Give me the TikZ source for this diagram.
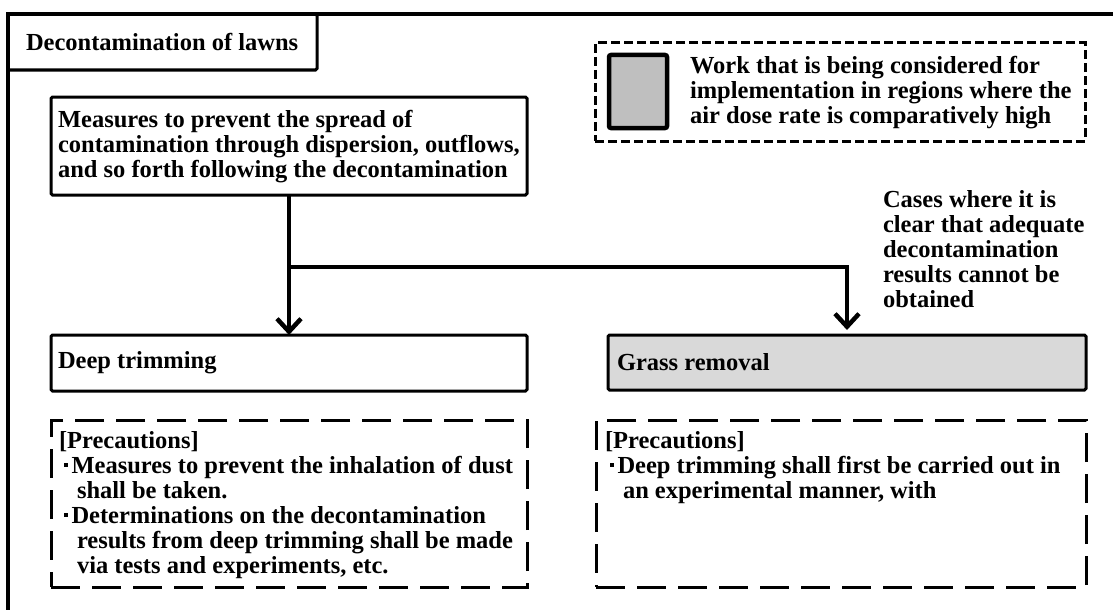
\documentclass[tikz,border=0pt]{standalone}
\usepackage{fontspec}
\setmainfont{Liberation Serif}
\usetikzlibrary{arrows.meta}
\definecolor{legendgray}{HTML}{BFBFBF}
\definecolor{boxgray}{HTML}{D9D9D9}
% small square bullet and hanging indent for the precaution lists
\newcommand\pdot{\hspace*{4.5pt}\rule[6.5pt]{4pt}{4pt}\hspace*{4pt}}
\newcommand\pind{\hspace*{18pt}}
\begin{document}
\begin{tikzpicture}[x=1pt,y=-1pt,
  every node/.style={inner sep=0pt, outer sep=0pt},
  txt/.style={font=\fontsize{24.5}{25}\selectfont\bfseries, align=left, anchor=west},
  solidbox/.style={draw, line width=3pt, rounded corners=1.5pt, anchor=north west},
  dashbox/.style={draw, line width=3pt, dash pattern=on 29pt off 12pt, anchor=north west},
  legendbox/.style={draw, line width=3pt, dash pattern=on 9pt off 4pt, anchor=north west},
  conn/.style={line width=4.5pt, -{Straight Barb[length=13pt,width=24pt]}},
]
\useasboundingbox (0,0) rectangle (1113,610);
\clip (0,0) rectangle (1113,610);
\fill[white] (0,0) rectangle (1113,610);

% outer frame (only its top and left edges are in view)
\draw[line width=3.5pt] (8,650) -- (8,14) -- (1150,14);

% title tab
\node[solidbox, minimum width=309pt, minimum height=56pt] (title) at (8,14) {};
\node[txt] (titletxt) at (26,42) {Decontamination of lawns};

% legend
\node[legendbox, minimum width=490pt, minimum height=98pt] (legend) at (595,43) {};
\node[draw, line width=4.5pt, rounded corners=2pt, fill=legendgray, anchor=north west,
      minimum width=58pt, minimum height=73pt] (legsq) at (609,55) {};
\node[txt] (legtxt) at (690,93) {Work that is being considered for\\implementation in regions where the\\air dose rate is comparatively high};

% measures box
\node[solidbox, minimum width=476pt, minimum height=98pt] (measures) at (51,97) {};
\node[txt] (measurestxt) at ([xshift=7pt, yshift=-1pt]measures.west) {Measures to prevent the spread of\\contamination through dispersion, outflows,\\and so forth following the decontamination};

% branch condition
\node[txt] (cases) at (883,249) {Cases where it is\\clear that adequate\\decontamination\\results cannot be\\obtained};

% work boxes
\node[solidbox, minimum width=476pt, minimum height=56pt] (deep) at (51,335) {};
\node[txt] (deeptxt) at ([xshift=7pt]deep.west) {Deep trimming};
\node[solidbox, fill=boxgray, minimum width=478pt, minimum height=55pt] (grass) at (608,335) {};
\node[txt] (grasstxt) at ([xshift=9pt]grass.west) {Grass removal};

% connectors
\coordinate (split) at (289,267);
\draw[conn] (measures.south) -- (deep.north);
\draw[conn, shorten >=5pt] (split) -| (grass.north);

% precaution boxes
\node[dashbox, minimum width=476pt, minimum height=167pt] (prec1) at (51,420) {};
\node[txt, anchor=north west] (prec1txt) at (59,431) {[Precautions]\\
\pdot Measures to prevent the inhalation of dust\\
\pind shall be taken.\\
\pdot Determinations on the decontamination\\
\pind results from deep trimming shall be made\\
\pind via tests and experiments, etc.};
\node[dashbox, minimum width=490pt, minimum height=167pt] (prec2) at (596,420) {};
\node[txt, anchor=north west] (prec2txt) at (605,431) {[Precautions]\\
\pdot Deep trimming shall first be carried out in\\
\pind an experimental manner, with};
\end{tikzpicture}
\end{document}
